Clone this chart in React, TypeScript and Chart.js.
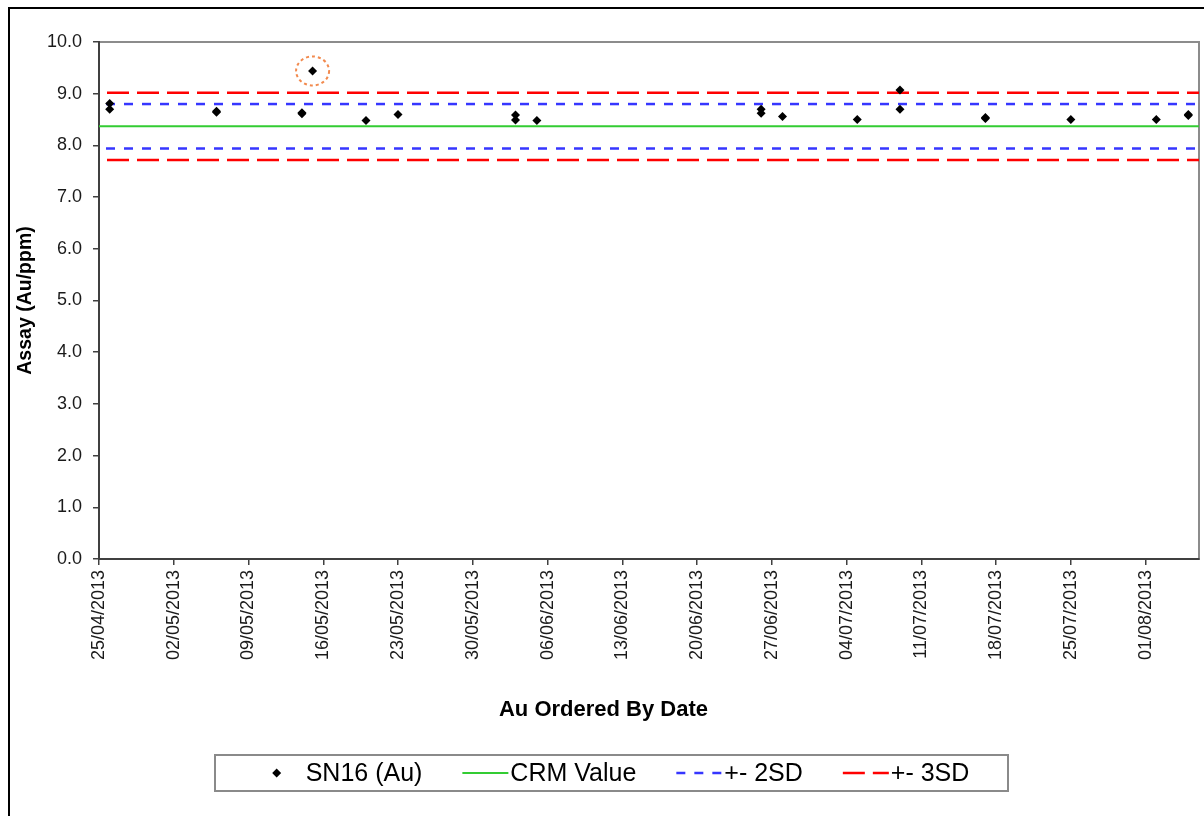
import React, { useEffect, useRef } from 'react';
import { Chart, registerables } from 'chart.js';

Chart.register(...registerables);

// ---- Data -------------------------------------------------------------
// x values are days after 25/04/2013
const xTickDays = [0, 7, 14, 21, 28, 35, 42, 49, 56, 63, 70, 77, 84, 91, 98];
const xTickLabels = [
  '25/04/2013', '02/05/2013', '09/05/2013', '16/05/2013', '23/05/2013',
  '30/05/2013', '06/06/2013', '13/06/2013', '20/06/2013', '27/06/2013',
  '04/07/2013', '11/07/2013', '18/07/2013', '25/07/2013', '01/08/2013',
];
const xMinDay = 0;
const xMaxDay = 103;

const sampleDays = [1, 1, 11, 11, 19, 19, 20, 25, 28, 39, 39, 41, 62, 62, 64, 71, 75, 75, 83, 83, 91, 99, 102, 102];
const sampleAu = [8.81, 8.70, 8.66, 8.64, 8.63, 8.61, 9.44, 8.48, 8.60, 8.59, 8.49, 8.48, 8.70, 8.62, 8.56, 8.50, 9.07, 8.70, 8.54, 8.52, 8.50, 8.50, 8.60, 8.58];
const flaggedSamples = [6];

const lineDays = [xMinDay, xMaxDay];
const crmValue = [8.37, 8.37];
const plus2SD = [8.80, 8.80];
const minus2SD = [7.94, 7.94];
const plus3SD = [9.02, 9.02];
const minus3SD = [7.72, 7.72];

const yMin = 0;
const yMax = 10;
const yStep = 1;

// ---- Styling ----------------------------------------------------------
const FONT = '"Liberation Sans", Arial, Helvetica, sans-serif';
const AXIS_COLOR = '#404040';
const RED = '#ff0000';
const BLUE = '#3636ff';
const GREEN = '#33cc33';

const toXY = (xs: number[], ys: number[]) => xs.map((x, i) => ({ x, y: ys[i] }));

const framePlugin = {
  id: 'frame',
  beforeDraw(chart: any) {
    const { ctx, chartArea, width, height } = chart;
    ctx.save();
    ctx.fillStyle = '#ffffff';
    ctx.fillRect(0, 0, width, height);
    ctx.fillStyle = '#000000';
    ctx.fillRect(0, 0, width, 2);
    ctx.fillRect(0, 0, 2, height);
    ctx.strokeStyle = '#8c8c8c';
    ctx.lineWidth = 2;
    ctx.strokeRect(chartArea.left, chartArea.top, chartArea.right - chartArea.left, chartArea.bottom - chartArea.top);
    ctx.restore();
  },
};

const flagPlugin = {
  id: 'flagCircle',
  afterDatasetsDraw(chart: any) {
    const meta = chart.getDatasetMeta(0);
    const { ctx } = chart;
    ctx.save();
    ctx.strokeStyle = '#f28a4e';
    ctx.lineWidth = 2;
    ctx.setLineDash([3, 3]);
    flaggedSamples.forEach((i) => {
      const el = meta.data[i];
      if (!el) return;
      ctx.beginPath();
      ctx.ellipse(el.x, el.y, 16.5, 14.5, 0, 0, Math.PI * 2);
      ctx.stroke();
    });
    ctx.restore();
  },
};

const boxLegendPlugin = {
  id: 'boxLegend',
  afterDraw(chart: any) {
    const { ctx } = chart;
    const box = { left: 207, top: 748, width: 793, height: 36 };
    ctx.save();
    ctx.fillStyle = '#ffffff';
    ctx.fillRect(box.left, box.top, box.width, box.height);
    ctx.strokeStyle = '#8a8a8a';
    ctx.lineWidth = 2;
    ctx.strokeRect(box.left, box.top, box.width, box.height);

    ctx.font = `25px ${FONT}`;
    const items = chart.data.datasets.filter((d: any) => d.label);
    const sampleW = 46;
    const itemGap = 40;
    const widths = items.map((d: any) => ctx.measureText(d.label).width);
    const gaps = items.map((d: any) => (d.showLine ? 2 : 6));
    let total = 0;
    items.forEach((_: any, i: number) => {
      total += sampleW + gaps[i] + widths[i];
    });
    total += itemGap * (items.length - 1);
    let x = box.left + (box.width - total) / 2;
    const cy = box.top + box.height / 2;
    items.forEach((d: any, i: number) => {
      if (d.showLine) {
        ctx.save();
        ctx.strokeStyle = d.borderColor;
        ctx.lineWidth = d.borderWidth;
        ctx.setLineDash(d.borderDash || []);
        ctx.lineDashOffset = 0;
        ctx.beginPath();
        ctx.moveTo(x, cy);
        ctx.lineTo(x + sampleW, cy);
        ctx.stroke();
        ctx.restore();
      } else {
        const cx = x + sampleW / 2;
        const r = d.pointRadius;
        ctx.fillStyle = d.backgroundColor;
        ctx.beginPath();
        ctx.moveTo(cx - r, cy);
        ctx.lineTo(cx, cy - r);
        ctx.lineTo(cx + r, cy);
        ctx.lineTo(cx, cy + r);
        ctx.closePath();
        ctx.fill();
      }
      x += sampleW + gaps[i];
      ctx.fillStyle = '#000000';
      ctx.textBaseline = 'middle';
      ctx.textAlign = 'left';
      ctx.fillText(d.label, x, cy + 1);
      x += widths[i] + itemGap;
    });
    ctx.restore();
  },
};

export default function App() {
  const canvasRef = useRef<HTMLCanvasElement | null>(null);

  useEffect(() => {
    if (!canvasRef.current) return;
    Chart.defaults.font.family = FONT;

    const lineDs = (label: string, ys: number[], color: string, dash: number[], dashOffset: number, width: number) => ({
      type: 'line' as const,
      label,
      data: toXY(lineDays, ys),
      showLine: true,
      borderColor: color,
      backgroundColor: color,
      borderWidth: width,
      borderDash: dash,
      borderDashOffset: dashOffset,
      pointRadius: 0,
      tension: 0,
      fill: false,
    });

    const chart = new Chart(canvasRef.current, {
      type: 'scatter',
      data: {
        datasets: [
          {
            label: 'SN16 (Au)',
            data: toXY(sampleDays, sampleAu),
            pointStyle: 'rectRot',
            pointRadius: 4.5,
            pointBorderWidth: 0,
            borderWidth: 0,
            backgroundColor: '#000000',
            borderColor: '#000000',
            showLine: false,
          } as any,
          lineDs('CRM Value', crmValue, GREEN, [], 0, 2),
          lineDs('+- 2SD', plus2SD, BLUE, [9, 9], 11, 2.5),
          lineDs('', minus2SD, BLUE, [9, 9], 11, 2.5),
          lineDs('+- 3SD', plus3SD, RED, [22, 8], 22, 2.5),
          lineDs('', minus3SD, RED, [22, 8], 22, 2.5),
        ],
      },
      options: {
        responsive: false,
        animation: false,
        events: [],
        layout: { padding: { top: 35, right: 5, bottom: 92.6, left: 0 } },
        plugins: {
          legend: { display: false },
          tooltip: { enabled: false },
          title: {
            display: true,
            text: 'Au Ordered By Date',
            position: 'bottom',
            color: '#000000',
            font: { size: 22, weight: 'bold' },
            padding: { top: 2, bottom: 0 },
          },
        },
        scales: {
          x: {
            type: 'linear',
            min: xMinDay,
            max: xMaxDay,
            afterBuildTicks: (scale: any) => {
              scale.ticks = xTickDays.map((v) => ({ value: v }));
            },
            afterFit: (scale: any) => {
              scale.height = 136;
            },
            ticks: {
              autoSkip: false,
              minRotation: 90,
              maxRotation: 90,
              padding: 5,
              color: '#1a1a1a',
              font: { size: 18 },
              callback: (_v: any, i: number) => xTickLabels[i],
            },
            grid: {
              display: true,
              drawOnChartArea: false,
              drawTicks: true,
              tickLength: 6,
              color: AXIS_COLOR,
              lineWidth: 1.5,
            },
            border: { display: true, color: AXIS_COLOR, width: 2 },
          },
          y: {
            type: 'linear',
            min: yMin,
            max: yMax,
            afterFit: (scale: any) => {
              scale.width = 91;
            },
            ticks: {
              stepSize: yStep,
              padding: 11,
              color: '#1a1a1a',
              font: { size: 18 },
              callback: (v: any) => Number(v).toFixed(1),
            },
            grid: {
              display: true,
              drawOnChartArea: false,
              drawTicks: true,
              tickLength: 6,
              color: AXIS_COLOR,
              lineWidth: 1.5,
            },
            border: { display: true, color: AXIS_COLOR, width: 2 },
            title: {
              display: true,
              text: 'Assay (Au/ppm)',
              color: '#000000',
              font: { size: 19.5, weight: 'bold' },
              padding: { top: 6, bottom: 0 },
            },
          },
        },
      } as any,
      plugins: [framePlugin, flagPlugin, boxLegendPlugin],
    });

    return () => {
      chart.destroy();
    };
  }, []);

  return (
    <div style={{ position: 'absolute', left: 8, top: 7, width: 1196, height: 809 }}>
      <canvas ref={canvasRef} width={1196} height={809} style={{ display: 'block' }} />
    </div>
  );
}
